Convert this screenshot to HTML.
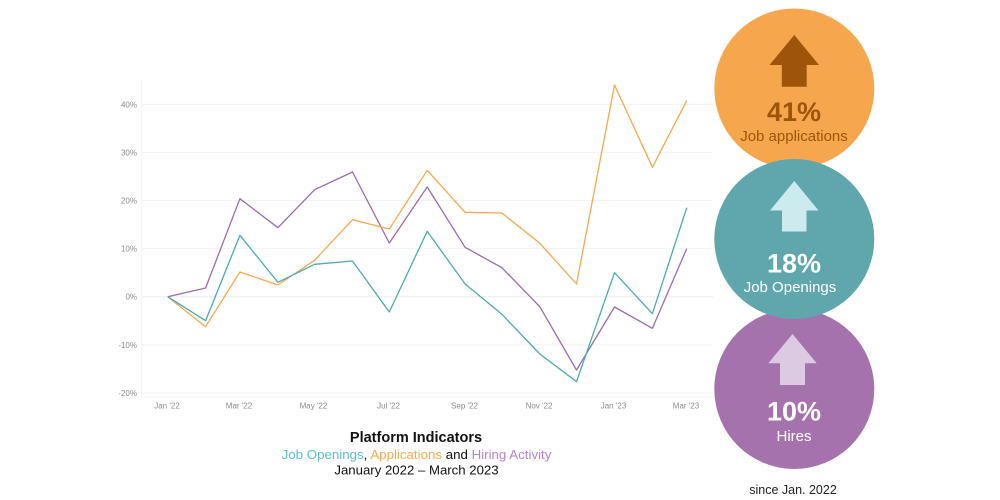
<!DOCTYPE html>
<html>
<head>
<meta charset="utf-8">
<style>
html,body{margin:0;padding:0;background:#fff;}
body{width:1000px;height:500px;overflow:hidden;position:relative;font-family:"Liberation Sans",sans-serif;}
svg{position:absolute;left:0;top:0;}
</style>
</head>
<body>
<svg width="1000" height="500" viewBox="0 0 1000 500" xmlns="http://www.w3.org/2000/svg">
  <!-- gridlines -->
  <g stroke="#f2f2f2" stroke-width="1">
    <line x1="141" y1="104.3" x2="713" y2="104.3"/>
    <line x1="141" y1="152.4" x2="713" y2="152.4"/>
    <line x1="141" y1="200.5" x2="713" y2="200.5"/>
    <line x1="141" y1="248.6" x2="713" y2="248.6"/>
    <line x1="141" y1="345" x2="713" y2="345"/>
    <line x1="141" y1="393" x2="713" y2="393"/>
  </g>
  <line x1="141" y1="296.7" x2="713" y2="296.7" stroke="#ebebeb" stroke-width="1"/>
  <line x1="141.5" y1="80" x2="141.5" y2="397" stroke="#f2f2f2" stroke-width="1"/>
  <line x1="141" y1="397" x2="713" y2="397" stroke="#f0f0f0" stroke-width="1"/>

  <!-- y tick labels -->
  <g font-family="Liberation Sans, sans-serif" font-size="8" fill="#8a8a8a" text-anchor="end">
    <text x="137" y="107.3">40%</text>
    <text x="137" y="155.4">30%</text>
    <text x="137" y="203.5">20%</text>
    <text x="137" y="251.6">10%</text>
    <text x="137" y="299.7">0%</text>
    <text x="137" y="348">-10%</text>
    <text x="137" y="396">-20%</text>
  </g>
  <!-- x tick labels -->
  <g font-family="Liberation Sans, sans-serif" font-size="8" fill="#8a8a8a" text-anchor="middle">
    <text x="167" y="408.5">Jan '22</text>
    <text x="239" y="408.5">Mar '22</text>
    <text x="313.5" y="408.5">May '22</text>
    <text x="388.5" y="408.5">Jul '22</text>
    <text x="464.5" y="408.5">Sep '22</text>
    <text x="539" y="408.5">Nov '22</text>
    <text x="613.5" y="408.5">Jan '23</text>
    <text x="686" y="408.5">Mar '23</text>
  </g>

  <!-- series -->
  <g fill="none" stroke-width="1.3" stroke-linejoin="round">
    <polyline stroke="#9c6bb0" points="167.7,296.7 205.6,288 239.9,198.7 277.9,227.7 314.6,189.7 352.5,172 389.3,243 427.2,187 465.1,247.3 501.9,267.7 539.8,306.7 576.5,370 614.5,307 652.4,328.3 686.7,248.7"/>
    <polyline stroke="#f7a84f" points="167.7,296.7 205.6,326.7 239.9,272 277.9,285 314.6,260.3 352.5,219.7 389.3,229 427.2,170.3 465.1,212.3 501.9,213 539.8,243.3 576.5,284 614.5,85 652.4,167.3 686.7,100.7"/>
    <polyline stroke="#4aacb2" points="167.7,296.7 205.6,320.7 239.9,235.3 277.9,282.3 314.6,264.3 352.5,261 389.3,312 427.2,231.3 465.1,284 501.9,314.3 539.8,354 576.5,381.7 614.5,272.7 652.4,313.7 686.7,207.7"/>
  </g>

  <!-- circles -->
  <circle cx="794.3" cy="88.5" r="80" fill="#f6a74d"/>
  <circle cx="794.3" cy="389" r="80" fill="#a672ae"/>
  <circle cx="794.3" cy="239" r="80" fill="#5fa6ad"/>

  <!-- arrows -->
  <polygon fill="#9e5509" points="794.3,35 819,65 806.7,65 806.7,86.7 781.8,86.7 781.8,65 769.5,65"/>
  <polygon fill="#cdebee" points="794.3,181 818.5,210.5 806.5,210.5 806.5,231.5 782,231.5 782,210.5 770,210.5"/>
  <polygon fill="#dcc9e2" points="792.5,334 816.7,363.3 805,363.3 805,385 780,385 780,363.3 768.3,363.3"/>

  <!-- circle text -->
  <g font-family="Liberation Sans, sans-serif" text-anchor="middle">
    <text x="794" y="121" font-size="27" font-weight="bold" fill="#9e5509">41%</text>
    <text x="794" y="141" font-size="15" fill="#9e5509">Job applications</text>
    <text x="794" y="272.7" font-size="27" font-weight="bold" fill="#ffffff">18%</text>
    <text x="790" y="292" font-size="15" fill="#ffffff">Job Openings</text>
    <text x="794" y="420.7" font-size="27" font-weight="bold" fill="#ffffff">10%</text>
    <text x="794" y="441" font-size="15" fill="#ffffff">Hires</text>
    <text x="793" y="494" font-size="12.5" fill="#222">since Jan. 2022</text>
  </g>

  <!-- title -->
  <g font-family="Liberation Sans, sans-serif" text-anchor="middle">
    <text x="416" y="441.8" font-size="14.5" font-weight="bold" fill="#111">Platform Indicators</text>
    <text x="416.5" y="459" font-size="13.3"><tspan fill="#5bbfc6">Job Openings</tspan><tspan fill="#111">, </tspan><tspan fill="#f8a94e">Applications</tspan><tspan fill="#111"> and </tspan><tspan fill="#b982c9">Hiring Activity</tspan></text>
    <text x="416.5" y="474.7" font-size="13.2" fill="#111">January 2022 – March 2023</text>
  </g>
</svg>
</body>
</html>
